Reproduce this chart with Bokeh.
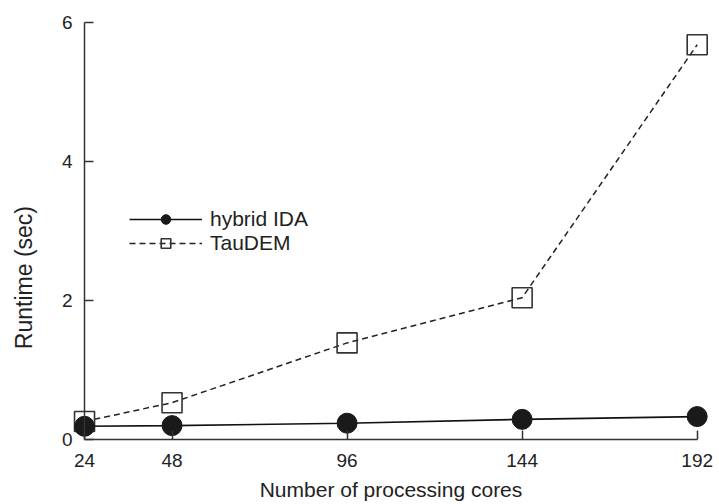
import math
from bokeh.plotting import figure
from bokeh.models import Range1d, Legend, LegendItem, Label, FixedTicker
from bokeh.embed import file_html
from bokeh.resources import INLINE

cores = [24, 48, 96, 144, 192]
hybrid_ida = [0.19, 0.20, 0.235, 0.29, 0.33]
taudem = [0.26, 0.53, 1.39, 2.04, 5.68]
y_ticks = [0, 2, 4, 6]

FONT = "Liberation Sans"
INK = "#222222"
AX = "#333333"

p = figure(width=719, height=504, output_backend="svg", toolbar_location=None,
           x_range=Range1d(0.96, 198.12), y_range=Range1d(-0.935, 6.3165),
           min_border_left=0, min_border_right=0, min_border_top=0,
           min_border_bottom=0)
p.outline_line_color = None
p.grid.visible = False
p.background_fill_color = "white"

for ax in (p.xaxis[0], p.yaxis[0]):
    ax.axis_line_color = AX
    ax.axis_line_width = 1.5
    ax.major_tick_line_color = AX
    ax.major_tick_line_width = 1.5
    ax.major_tick_in = 9
    ax.major_tick_out = 0
    ax.minor_tick_line_color = None
    ax.major_label_text_font = FONT
    ax.major_label_text_font_size = "19px"
    ax.major_label_text_color = INK

p.xaxis[0].major_label_standoff = 14
p.yaxis[0].major_label_standoff = 12
p.xaxis[0].ticker = FixedTicker(ticks=cores)
p.yaxis[0].ticker = FixedTicker(ticks=y_ticks)
p.xaxis[0].bounds = (cores[0], cores[-1])
p.yaxis[0].bounds = (y_ticks[0], y_ticks[-1])
p.xaxis[0].fixed_location = 0
p.yaxis[0].fixed_location = cores[0]
p.xaxis[0].axis_label = "Number of processing cores"
p.xaxis[0].axis_label_text_font = FONT
p.xaxis[0].axis_label_text_font_size = "21px"
p.xaxis[0].axis_label_text_font_style = "normal"
p.xaxis[0].axis_label_text_color = INK
p.xaxis[0].axis_label_standoff = 8

p.add_layout(Label(x=7.3, y=2.33, text="Runtime (sec)", angle=math.pi / 2,
                   text_align="center", text_baseline="middle",
                   text_font=FONT, text_font_size="23px", text_color=INK))

t_line = p.line(cores, taudem, line_color="#222222", line_width=1.5, line_dash="6 4")
t_pts = p.scatter(cores, taudem, marker="square", size=20, fill_color=None,
                  line_color="#333333", line_width=1.6)
h_line = p.line(cores, hybrid_ida, line_color="#111111", line_width=1.6)
h_pts = p.scatter(cores, hybrid_ida, marker="circle", size=20, fill_color="#1a1a1a",
                  line_color="#1a1a1a")

legend = Legend(items=[LegendItem(label="hybrid IDA", renderers=[h_line, h_pts]),
                       LegendItem(label="TauDEM", renderers=[t_line, t_pts])],
                location=(129, 249), padding=0, margin=0, spacing=0,
                glyph_width=73, glyph_height=24, label_standoff=8,
                border_line_color=None, background_fill_alpha=0,
                label_text_font=FONT, label_text_font_size="21px",
                label_text_color=INK)
p.add_layout(legend)

open("out.html", "w").write(file_html(p, INLINE))
